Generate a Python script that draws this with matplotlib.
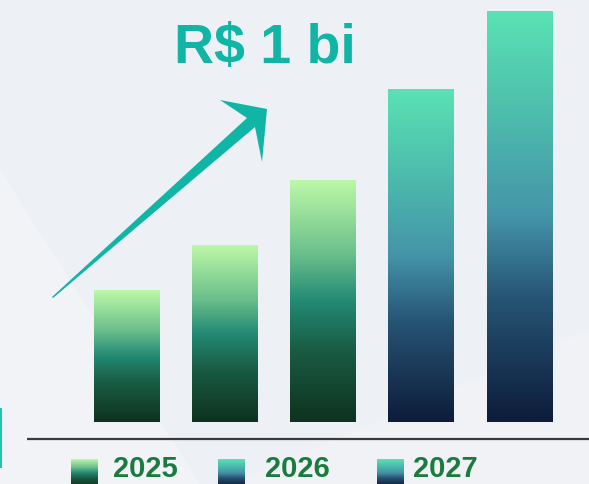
import numpy as np
import matplotlib
matplotlib.use("Agg")
import matplotlib.pyplot as plt
import matplotlib.patches as patches
from matplotlib.colors import LinearSegmentedColormap

# data (share of the R$ 1 bi target)
bar_pos = [0, 1, 2, 3, 4]
bar_vals = [0.32, 0.43, 0.59, 0.81, 1.00]
bar_kind = ['green', 'green', 'green', 'blue', 'blue']
legend_labels = ['2025', '2026', '2027']
legend_kind = ['green', 'blue', 'blue']
title = "R$ 1 bi"

W, H = 589, 484
fig = plt.figure(figsize=(W / 100, H / 100), dpi=100)
fig.patch.set_facecolor('#edf0f5')
ax = fig.add_axes([0, 0, 1, 1])
ax.set_facecolor('#edf0f5')
ax.axis('off')

# scale: bar spacing 98.25px, value 1.0 = 410px, baseline at 422px
step, unit, x0, base = 98.25, 410.0, 126.5, 422.0
xlim = (-x0 / step, (W - x0) / step)
ylim = ((base - H) / unit, base / unit)


def px(x, y):
    return (x - x0) / step, (base - y) / unit


green = LinearSegmentedColormap.from_list('g', [
    (0.0, '#0e321f'), (0.3, '#1a5c44'), (0.5, '#238a74'),
    (0.7, '#6cc08c'), (1.0, '#bcf8a8')])
blue = LinearSegmentedColormap.from_list('b', [
    (0.0, '#0d1c3a'), (0.3, '#275474'), (0.5, '#4494a8'),
    (0.72, '#4cb8ac'), (1.0, '#5ae2b4')])
cmaps = {'green': green, 'blue': blue}

# faint background shapes
fx = [px(0, 170), px(200, 484), px(0, 484)]
ax.add_patch(patches.Polygon(fx, closed=True, facecolor='#f1f3f7', edgecolor='none', zorder=0))
fx2 = [px(230, 484), px(589, 330), px(589, 484)]
ax.add_patch(patches.Polygon(fx2, closed=True, facecolor='#f0f2f6', edgecolor='none', zorder=0))

grad = np.linspace(0, 1, 256).reshape(-1, 1)
bw = 66 / step
for p, v, k in zip(bar_pos, bar_vals, bar_kind):
    ax.imshow(grad, cmap=cmaps[k], origin='lower', aspect='auto',
              extent=(p - bw / 2, p + bw / 2, 0, v), zorder=2, interpolation='bilinear')

# baseline
bx0, by = px(27, 439)
ax.plot([bx0, xlim[1]], [by, by], color='#3a3a3a', lw=1.6, zorder=2, solid_capstyle='butt')

# arrow
arrow_px = [(52, 297), (247, 118), (220, 100), (267, 109), (262, 162), (255, 127), (53, 298)]
ax.add_patch(patches.Polygon([px(a, b) for a, b in arrow_px], closed=True,
                             facecolor='#10b5a5', edgecolor='none', zorder=3))

# title
tx, ty = px(265, 63)
ax.text(tx, ty, title, fontsize=40, fontweight='bold', color='#10b5a5',
        family='Liberation Sans', ha='center', va='baseline', zorder=4)

# left teal tab
lx, ly = px(-4, 468)
ax.add_patch(patches.FancyBboxPatch((lx, ly), 6 / step, 60 / unit,
                                    boxstyle='round,pad=0', facecolor='#22c2b4',
                                    edgecolor='none', zorder=2))

# legend
sq_x = [71, 218, 377]
txt_x = [113, 265, 413]
for sx, tx_, lab, k in zip(sq_x, txt_x, legend_labels, legend_kind):
    a0, a1 = px(sx, 459)
    b0, b1 = px(sx + 27, 486)
    ax.imshow(grad, cmap=cmaps[k], origin='lower', aspect='auto',
              extent=(a0, b0, b1, a1), zorder=2, interpolation='bilinear')
    lx_, ly_ = px(tx_, 477)
    ax.text(lx_, ly_, lab, fontsize=21, fontweight='bold', color='#1b7a3e',
            family='Liberation Sans', ha='left', va='baseline', zorder=4)

ax.set_xlim(*xlim)
ax.set_ylim(*ylim)
fig.savefig('out.png', dpi=100, facecolor=fig.get_facecolor())
